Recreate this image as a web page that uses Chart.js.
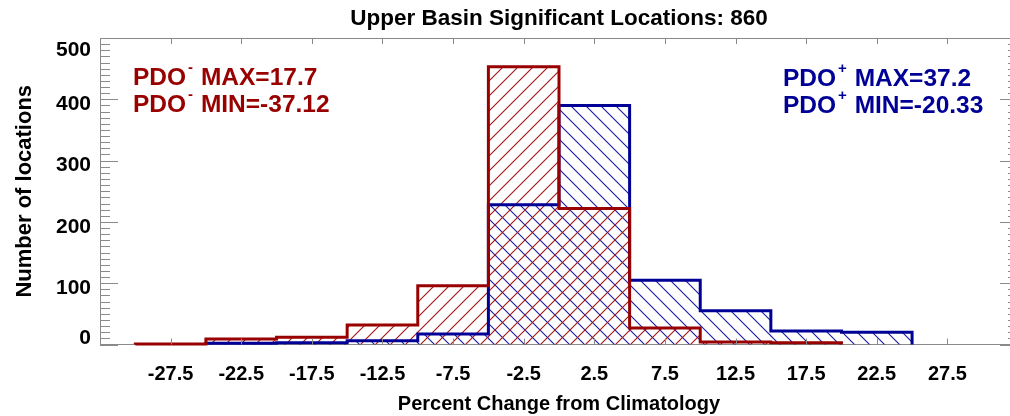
<!DOCTYPE html>
<html><head><meta charset="utf-8">
<script src="https://cdn.jsdelivr.net/npm/chart.js@4/dist/chart.umd.min.js"></script>
<style>
html,body{margin:0;padding:0;background:#fff;overflow:hidden;width:1010px;height:416px}
#wrap{position:absolute;left:0;top:0;width:1020px;height:416px}
</style>
</head><body><div id="wrap"><canvas id="c" width="1020" height="416"></canvas></div>
<script>
// ---- data ----
const binCenters   = [-27.5, -22.5, -17.5, -12.5, -7.5, -2.5, 2.5, 7.5, 12.5, 17.5, 22.5];
const pdoNegCounts = [1, 9, 12, 32, 96, 453, 222, 27, 4, 3, null];
const pdoPosCounts = [null, 2, 3, 6, 17, 228, 390, 105, 55, 22, 20];
const xTickValues  = [-27.5, -22.5, -17.5, -12.5, -7.5, -2.5, 2.5, 7.5, 12.5, 17.5, 22.5, 27.5];
const yTickValues  = [0, 100, 200, 300, 400, 500];
const binWidth = 5;
const titleText = 'Upper Basin Significant Locations: 860';
const xTitle = 'Percent Change from Climatology';
const yTitle = 'Number of locations';
const negLabels = ['MAX=17.7', 'MIN=-37.12'];
const posLabels = ['MAX=37.2', 'MIN=-20.33'];

const RED = '#990000', BLUE = '#000096', AXIS = '#8a8a8a';
const FONT = '"Liberation Sans", Arial, Helvetica, sans-serif';

function barPoints(counts) {
  const out = [];
  counts.forEach((c, i) => { if (c !== null) out.push({x: binCenters[i], y: c}); });
  return out;
}
function outlinePoints(counts) {
  const idx = counts.map((c, i) => c !== null ? i : -1).filter(i => i >= 0);
  const pts = [{x: binCenters[idx[0]] - binWidth / 2, y: 0}];
  idx.forEach(i => pts.push({x: binCenters[i] - binWidth / 2, y: counts[i]}));
  pts.push({x: binCenters[idx[idx.length - 1]] + binWidth / 2, y: 0});
  return pts;
}
function hatch(color, dir) {
  const s = 15, c = document.createElement('canvas');
  c.width = s; c.height = s;
  const g = c.getContext('2d');
  g.strokeStyle = color; g.lineWidth = 1.1;
  g.beginPath();
  if (dir === '/') {
    g.moveTo(-2, s + 2); g.lineTo(s + 2, -2);
    g.moveTo(-2, 2); g.lineTo(2, -2);
    g.moveTo(s - 2, s + 2); g.lineTo(s + 2, s - 2);
  } else {
    g.moveTo(-2, -2); g.lineTo(s + 2, s + 2);
    g.moveTo(s - 2, -2); g.lineTo(s + 2, 2);
    g.moveTo(-2, s - 2); g.lineTo(2, s + 2);
  }
  g.stroke();
  return document.getElementById('c').getContext('2d').createPattern(c, 'repeat');
}

const decorPlugin = {
  id: 'decor',
  afterDraw(chart) {
    const ctx = chart.ctx, a = chart.chartArea;
    const xs = chart.scales.x, ys = chart.scales.y;
    ctx.save();
    // frame (top and right)
    ctx.strokeStyle = AXIS; ctx.lineWidth = 1;
    ctx.beginPath();
    ctx.moveTo(a.left, a.top + 0.5); ctx.lineTo(a.right, a.top + 0.5);
    ctx.moveTo(a.right - 0.5, a.top); ctx.lineTo(a.right - 0.5, a.bottom);
    ctx.stroke();
    // y ticks (major every 100, minor every 10), both sides, inward
    ctx.beginPath();
    for (let v = 0; v <= 500; v += 10) {
      const y = Math.round(ys.getPixelForValue(v)) + 0.5;
      const len = (v % 100 === 0) ? 18 : 10;
      ctx.moveTo(a.left, y); ctx.lineTo(a.left + len, y);
      ctx.moveTo(a.right, y); ctx.lineTo(a.right - len, y);
    }
    // x ticks, bottom and top, inward
    xTickValues.forEach(v => {
      const x = Math.round(xs.getPixelForValue(v)) + 0.5;
      ctx.moveTo(x, a.bottom); ctx.lineTo(x, a.bottom - 6);
      ctx.moveTo(x, a.top); ctx.lineTo(x, a.top + 6);
    });
    ctx.stroke();
    // y tick labels
    ctx.fillStyle = '#000';
    ctx.font = 'bold 21px ' + FONT;
    ctx.textAlign = 'right'; ctx.textBaseline = 'middle';
    yTickValues.forEach(v => {
      let y = ys.getPixelForValue(v) + 5;
      y = Math.max(a.top + 12, Math.min(a.bottom - 6, y));
      ctx.fillText(String(v), a.left - 9, y);
    });
    // title
    const cx = (a.left + a.right) / 2;
    ctx.textAlign = 'center';
    ctx.font = 'bold 22.5px ' + FONT;
    ctx.fillText(titleText, cx, 19);
    // x title
    ctx.font = 'bold 20px ' + FONT;
    ctx.fillText(xTitle, cx, 404);
    // y title
    ctx.save();
    ctx.translate(25, (a.top + a.bottom) / 2);
    ctx.rotate(-Math.PI / 2);
    ctx.font = 'bold 22px ' + FONT;
    ctx.fillText(yTitle, 0, 0);
    ctx.restore();
    // annotations
    function annot(x, baseY, sup, rest, color) {
      ctx.fillStyle = color;
      ctx.textAlign = 'left'; ctx.textBaseline = 'alphabetic';
      ctx.font = 'bold 24.5px ' + FONT;
      ctx.fillText('PDO', x, baseY);
      let px = x + ctx.measureText('PDO').width + 2;
      ctx.font = 'bold 15px ' + FONT;
      ctx.fillText(sup, px, baseY - 13);
      px += ctx.measureText(sup).width;
      ctx.font = 'bold 24.5px ' + FONT;
      ctx.fillText(' ' + rest, px + 1, baseY);
    }
    annot(133, 85, '-', negLabels[0], RED);
    annot(133, 112, '-', negLabels[1], RED);
    annot(783, 86, '+', posLabels[0], BLUE);
    annot(783, 113, '+', posLabels[1], BLUE);
    ctx.restore();
  }
};

const chart = new Chart(document.getElementById('c'), {
  data: {
    datasets: [
      { type: 'line', label: 'PDO- outline', data: outlinePoints(pdoNegCounts), borderColor: RED,
        borderWidth: 3, stepped: 'before', pointRadius: 0, fill: false, order: 0, clip: 4 },
      { type: 'line', label: 'PDO+ outline', data: outlinePoints(pdoPosCounts), borderColor: BLUE,
        borderWidth: 3, stepped: 'before', pointRadius: 0, fill: false, order: 1, clip: 4 },
      { type: 'bar', label: 'PDO-', data: barPoints(pdoNegCounts), backgroundColor: hatch('#a31515', '/'),
        borderWidth: 0, grouped: false, barPercentage: 1, categoryPercentage: 1, order: 2 },
      { type: 'bar', label: 'PDO+', data: barPoints(pdoPosCounts), backgroundColor: hatch('#1a1aa3', '\\'),
        borderWidth: 0, grouped: false, barPercentage: 1, categoryPercentage: 1, order: 3 }
    ]
  },
  options: {
    responsive: false,
    animation: false,
    devicePixelRatio: 1,
    layout: { padding: { top: 38, right: 2, left: 0, bottom: 0 } },
    plugins: { legend: { display: false }, title: { display: false }, tooltip: { enabled: false } },
    scales: {
      x: {
        type: 'linear', min: -32.5, max: 32.5, offset: false,
        afterBuildTicks: s => { s.ticks = xTickValues.map(v => ({ value: v })); },
        afterFit: s => { s.height = 71.5; },
        ticks: { color: '#000', font: { family: FONT, size: 20, weight: 'bold' }, padding: 18,
                 maxRotation: 0, autoSkip: false, callback: v => Number(v).toFixed(1) },
        grid: { display: false, drawTicks: false, offset: false },
        border: { display: true, color: AXIS, width: 1 }
      },
      y: {
        type: 'linear', min: 0, max: 500,
        afterBuildTicks: s => { s.ticks = yTickValues.map(v => ({ value: v })); },
        afterFit: s => { s.width = 100; },
        ticks: { display: false },
        grid: { display: false, drawTicks: false },
        border: { display: true, color: AXIS, width: 1 }
      }
    }
  },
  plugins: [decorPlugin]
});
</script>
</body></html>
